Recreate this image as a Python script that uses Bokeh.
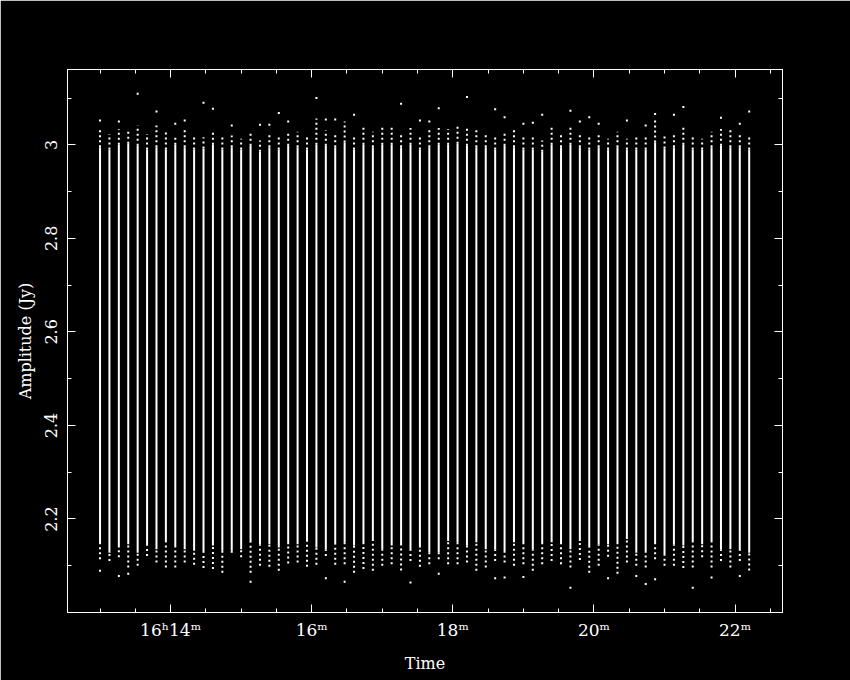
import math
import numpy as np
from bokeh.plotting import figure
from bokeh.models import (Range1d, FixedTicker, LinearAxis, Label, ColumnDataSource,
                          CustomJSTickFormatter)
from bokeh.embed import file_html
from bokeh.resources import INLINE

# ---------------- data ----------------
title_text = "I 1934\u2212638.9500 9.5000 GHz"

times = [
    "16:13:00", "16:13:08", "16:13:16", "16:13:24", "16:13:32", "16:13:40", "16:13:48", "16:13:56",
    "16:14:04", "16:14:12", "16:14:20", "16:14:28", "16:14:36", "16:14:44", "16:14:52",
    "16:15:00", "16:15:08", "16:15:16", "16:15:24", "16:15:32", "16:15:40", "16:15:48", "16:15:56",
    "16:16:04", "16:16:12", "16:16:20", "16:16:28", "16:16:36", "16:16:44", "16:16:52",
    "16:17:00", "16:17:08", "16:17:16", "16:17:24", "16:17:32", "16:17:40", "16:17:48", "16:17:56",
    "16:18:04", "16:18:12", "16:18:20", "16:18:28", "16:18:36", "16:18:44", "16:18:52",
    "16:19:00", "16:19:08", "16:19:16", "16:19:24", "16:19:32", "16:19:40", "16:19:48", "16:19:56",
    "16:20:04", "16:20:12", "16:20:20", "16:20:28", "16:20:36", "16:20:44", "16:20:52",
    "16:21:00", "16:21:08", "16:21:16", "16:21:24", "16:21:32", "16:21:40", "16:21:48", "16:21:56",
    "16:22:04", "16:22:12",
]

# top of the continuous part of each integration (Jy)
hi_solid = [2.995, 2.990, 3.000, 3.002, 2.998, 2.990, 2.995, 2.990, 3.000, 2.995,
            2.990, 2.992, 3.000, 2.990, 2.995, 2.990, 2.998, 2.985, 2.995, 2.990,
            2.998, 2.995, 2.990, 3.000, 2.998, 2.995, 3.005, 2.990, 3.000, 2.995,
            3.000, 3.000, 2.995, 3.000, 2.990, 2.995, 3.000, 3.000, 3.002, 2.998,
            2.995, 2.995, 2.990, 2.998, 2.995, 2.990, 2.990, 2.985, 3.000, 2.995,
            3.000, 2.995, 2.990, 2.995, 2.990, 2.995, 2.990, 2.990, 2.990, 3.005,
            2.992, 2.995, 3.000, 2.990, 2.990, 2.995, 2.998, 2.995, 2.995, 2.990]
# top of the dotted (sparser) part
top_dots = [3.031, 3.023, 3.034, 3.034, 3.041, 3.023, 3.041, 3.031, 3.021, 3.031,
            3.016, 3.016, 3.031, 3.016, 3.020, 3.013, 3.026, 3.009, 3.026, 3.016,
            3.026, 3.028, 3.016, 3.056, 3.031, 3.023, 3.050, 3.020, 3.038, 3.028,
            3.038, 3.040, 3.027, 3.036, 3.016, 3.031, 3.036, 3.034, 3.045, 3.036,
            3.031, 3.027, 3.020, 3.027, 3.031, 3.021, 3.016, 3.009, 3.041, 3.023,
            3.041, 3.027, 3.016, 3.027, 3.013, 3.028, 3.013, 3.020, 3.016, 3.054,
            3.021, 3.027, 3.043, 3.020, 3.013, 3.028, 3.034, 3.031, 3.027, 3.020]
nan = float("nan")
# isolated highest point (nan = none)
top_out = [3.052, nan, 3.050, nan, 3.109, nan, 3.071, nan, 3.045, 3.052,
           nan, 3.090, 3.077, nan, 3.041, nan, nan, 3.043, 3.043, 3.068,
           3.050, nan, nan, 3.100, 3.054, 3.054, nan, 3.064, nan, nan,
           nan, nan, 3.088, nan, 3.052, 3.050, 3.078, nan, nan, 3.102,
           nan, nan, 3.076, 3.059, nan, 3.045, 3.047, 3.064, nan, nan,
           3.073, 3.050, 3.059, 3.045, nan, nan, 3.052, nan, 3.041, 3.066,
           nan, 3.064, 3.081, nan, nan, nan, 3.058, nan, 3.045, 3.071]
# bottom of the continuous part
lo_solid = [2.146, 2.128, 2.139, 2.146, 2.128, 2.143, 2.135, 2.150, 2.139, 2.135,
            2.132, 2.128, 2.143, 2.132, 2.132, 2.135, 2.150, 2.146, 2.146, 2.139,
            2.146, 2.146, 2.153, 2.139, 2.135, 2.146, 2.150, 2.143, 2.146, 2.153,
            2.135, 2.143, 2.143, 2.132, 2.139, 2.128, 2.128, 2.153, 2.150, 2.143,
            2.150, 2.135, 2.135, 2.128, 2.150, 2.146, 2.135, 2.146, 2.150, 2.146,
            2.135, 2.153, 2.139, 2.146, 2.146, 2.146, 2.157, 2.128, 2.128, 2.146,
            2.125, 2.146, 2.143, 2.150, 2.146, 2.150, 2.135, 2.135, 2.132, 2.128]
# bottom of the dotted part
bot_dots = [2.114, 2.110, 2.118, 2.096, 2.100, 2.121, 2.107, 2.096, 2.096, 2.107,
            2.102, 2.095, 2.093, 2.085, 2.128, 2.118, 2.085, 2.100, 2.098, 2.089,
            2.105, 2.107, 2.098, 2.102, 2.121, 2.102, 2.103, 2.085, 2.093, 2.089,
            2.100, 2.103, 2.090, 2.110, 2.098, 2.103, 2.114, 2.103, 2.103, 2.107,
            2.089, 2.096, 2.110, 2.107, 2.100, 2.103, 2.089, 2.103, 2.110, 2.103,
            2.096, 2.112, 2.085, 2.100, 2.119, 2.083, 2.107, 2.100, 2.096, 2.114,
            2.100, 2.100, 2.095, 2.096, 2.118, 2.096, 2.110, 2.096, 2.110, 2.090]
# isolated lowest point (nan = none)
bot_out = [2.089, nan, 2.078, 2.083, nan, nan, nan, nan, nan, nan,
           nan, nan, nan, nan, nan, nan, 2.066, nan, nan, nan,
           nan, nan, nan, nan, 2.073, nan, 2.066, nan, nan, nan,
           nan, nan, nan, 2.064, nan, nan, 2.083, nan, nan, nan,
           nan, nan, 2.073, 2.075, nan, 2.076, nan, nan, nan, nan,
           2.053, nan, nan, nan, 2.073, nan, nan, 2.078, 2.061, 2.071,
           nan, nan, nan, 2.053, nan, 2.075, nan, nan, 2.078, nan]

x_major = [14, 16, 18, 20, 22]
x_labels = ["16\u02b014\u1d50", "16\u1d50", "18\u1d50", "20\u1d50", "22\u1d50"]
y_major = [2.2, 2.4, 2.6, 2.8, 3.0]
y_labels = ["2.2", "2.4", "2.6", "2.8", "3"]

for arr in (hi_solid, top_dots, top_out, lo_solid, bot_dots, bot_out):
    assert len(arr) == len(times), len(arr)

# ---------------- build ----------------
def to_min(s):
    h, m, sec = (int(v) for v in s.split(":"))
    return m + sec / 60.0

t = [to_min(s) for s in times]
src = ColumnDataSource(dict(t=t, hi=hi_solid, td=top_dots, to=top_out,
                            lo=lo_solid, bd=bot_dots, bo=bot_out))

FONT = "DejaVu Serif"
W = "white"

p = figure(width=850, height=680, output_backend="svg", toolbar_location=None,
           x_range=Range1d(12.539, 22.672), y_range=Range1d(2.0, 3.161),
           min_border_left=67, min_border_right=68, min_border_top=69, min_border_bottom=68,
           background_fill_color="black", border_fill_color="black",
           outline_line_color=W, outline_line_width=1)
p.grid.visible = False

p.segment(x0="t", y0="lo", x1="t", y1="hi", source=src, line_color=W, line_width=2)
p.segment(x0="t", y0="hi", x1="t", y1="td", source=src, line_color=W, line_width=2,
          line_dash="2 3")
p.segment(x0="t", y0="bd", x1="t", y1="lo", source=src, line_color=W, line_width=2,
          line_dash="2 3")
p.scatter(x="t", y="to", source=src, marker="square", size=2, color=W, line_width=0)
p.scatter(x="t", y="bo", source=src, marker="square", size=2, color=W, line_width=0)

x_minor = list(np.arange(12.5, 22.75, 0.5))
y_minor = list(np.round(np.arange(2.0, 3.15, 0.1), 2))
xt = FixedTicker(ticks=x_major, minor_ticks=x_minor)
yt = FixedTicker(ticks=y_major, minor_ticks=y_minor)

def style(ax):
    ax.axis_line_color = W
    ax.major_tick_line_color = W
    ax.minor_tick_line_color = W
    ax.major_tick_in = 8
    ax.major_tick_out = 0
    ax.minor_tick_in = 4
    ax.minor_tick_out = 0
    ax.major_label_text_color = W
    ax.major_label_text_font = FONT
    ax.major_label_text_font_size = "16px"
    ax.axis_label_text_color = W
    ax.axis_label_text_font = FONT
    ax.axis_label_text_font_size = "16px"
    ax.axis_label_text_font_style = "normal"

xa = p.xaxis[0]
xa.ticker = xt
xa.major_label_overrides = {v: s for v, s in zip(x_major, x_labels)}
xa.axis_label = "Time"
style(xa)
xa.major_label_text_font_size = "17px"
xa.major_label_standoff = 7
xa.axis_label_standoff = 11

ya = p.yaxis[0]
ya.ticker = yt
ya.major_label_overrides = {v: s for v, s in zip(y_major, y_labels)}
ya.axis_label = "Amplitude (Jy)"
style(ya)
ya.major_label_orientation = "vertical"
ya.major_label_standoff = 10
ya.axis_label_standoff = 8

empty = CustomJSTickFormatter(code="return ''")
top = LinearAxis(ticker=xt, formatter=empty)
style(top)
top.major_label_text_font_size = "1px"
right = LinearAxis(ticker=yt, formatter=empty)
style(right)
right.major_label_text_font_size = "1px"
p.add_layout(top, "above")
p.add_layout(right, "right")

p.add_layout(Label(x=17.605, y=3.2466, text=title_text, text_color=W, text_font=FONT,
                   text_font_size="16px", text_align="center", text_baseline="middle"))

open("out.html", "w").write(file_html(p, INLINE))
